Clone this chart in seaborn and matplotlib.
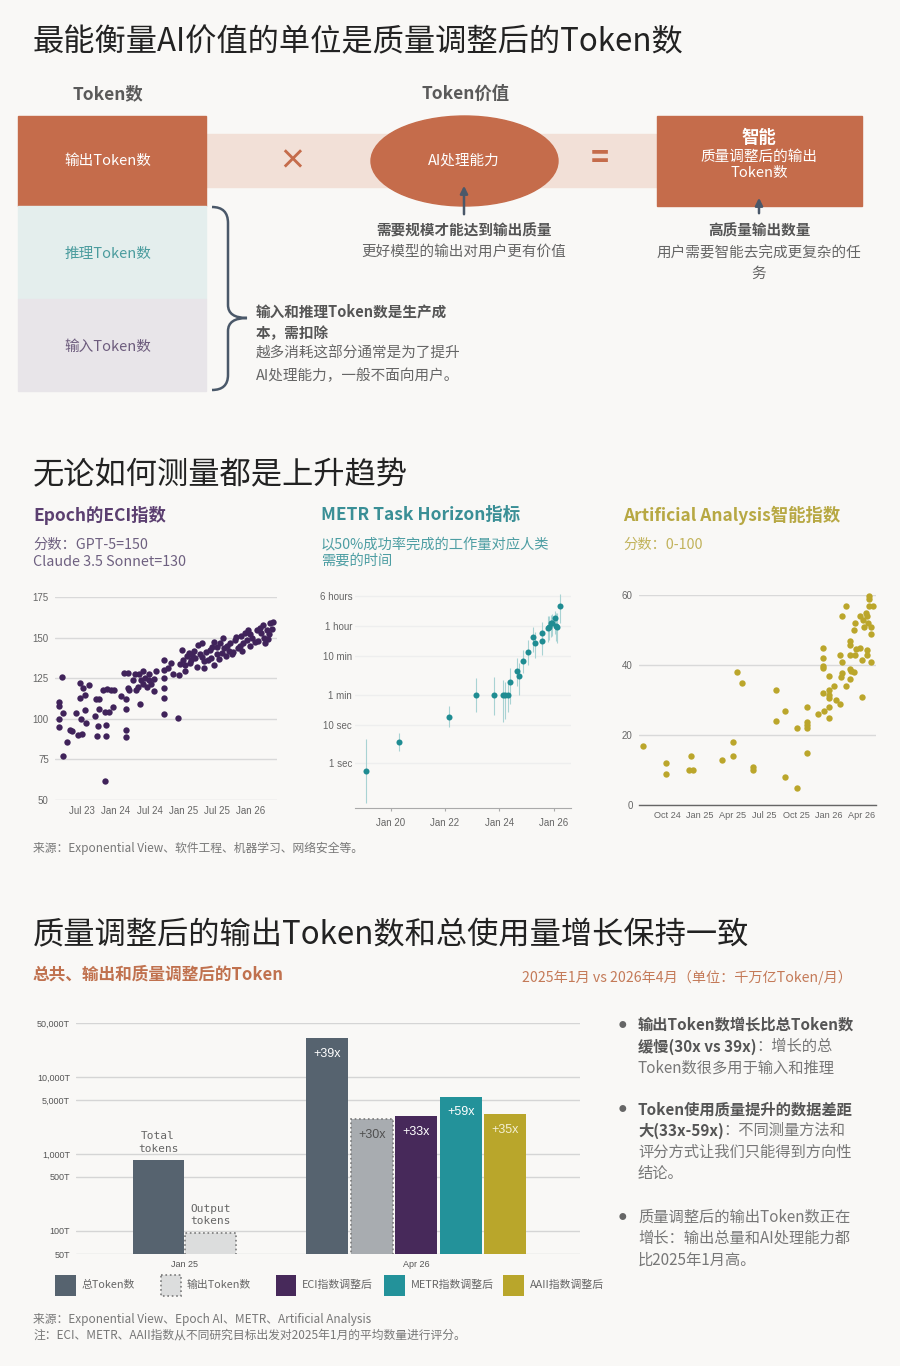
import matplotlib
matplotlib.use('Agg')
import matplotlib.pyplot as plt
import seaborn as sns
from matplotlib.patches import Rectangle, Ellipse, PathPatch
from matplotlib.path import Path
from matplotlib.ticker import NullLocator

# -------------------------
# Data
# -------------------------
# Epoch ECI (date as decimal year, score)
eci_date = [2023.17, 2023.17, 2023.17, 2023.17, 2023.21, 2023.22, 2023.23, 2023.29, 2023.32, 2023.35,
            2023.42, 2023.44, 2023.47, 2023.47, 2023.49, 2023.50, 2023.52, 2023.55, 2023.55, 2023.56,
            2023.61, 2023.70, 2023.71, 2023.72, 2023.74, 2023.75, 2023.76, 2023.82, 2023.84, 2023.86,
            2023.86, 2023.84, 2023.88, 2023.91, 2023.93, 2023.96, 2023.97, 2024.08, 2024.13, 2024.16,
            2024.16, 2024.16, 2024.16, 2024.18, 2024.19, 2024.20, 2024.25, 2024.29, 2024.30, 2024.33,
            2024.36, 2024.35, 2024.38, 2024.40, 2024.41, 2024.44, 2024.46, 2024.49, 2024.50, 2024.52,
            2024.56, 2024.57, 2024.59, 2024.71, 2024.72, 2024.72, 2024.72, 2024.72, 2024.72, 2024.77,
            2024.82, 2024.85, 2024.92, 2024.94, 2024.95, 2024.98, 2025.00, 2025.03, 2025.05, 2025.08,
            2025.10, 2025.13, 2025.15, 2025.17, 2025.20, 2025.22, 2025.25, 2025.27, 2025.30, 2025.31,
            2025.34, 2025.36, 2025.39, 2025.41, 2025.45, 2025.45, 2025.49, 2025.50, 2025.54, 2025.57,
            2025.59, 2025.60, 2025.63, 2025.67, 2025.69, 2025.72, 2025.76, 2025.78, 2025.80, 2025.83,
            2025.85, 2025.88, 2025.91, 2025.94, 2025.95, 2025.98, 2026.01, 2026.08, 2026.10, 2026.13,
            2026.15, 2026.17, 2026.21, 2026.23, 2026.27, 2026.28, 2026.31, 2026.32, 2025.02, 2025.12,
            2025.28, 2025.43, 2025.52, 2025.65, 2025.74, 2025.87, 2025.99, 2026.05, 2026.19, 2026.25]
eci_score = [110.5, 108, 99.6, 95, 126, 103.7, 77, 85.5, 93, 92.4,
             103.7, 90, 122, 113, 100, 90.6, 119, 114.5, 105.7, 97.5,
             121, 102, 112, 89.3, 95.7, 112.5, 106, 118, 104, 96,
             89.3, 61.5, 118.6, 104.3, 118, 107.4, 118, 114, 128, 112.5,
             106, 93.4, 88.5, 119, 128, 117.6, 123.8, 127.5, 117.6, 119.7,
             109.4, 127.5, 123.8, 129.5, 121.7, 125.4, 119.7, 123.8, 127.5, 121.3,
             117, 124.8, 129.5, 136, 130, 125.4, 119, 113, 103, 131.5,
             134.4, 127.5, 100.6, 127, 134, 142.6, 136.5, 129.5, 138.5, 140.6,
             134.4, 139, 142, 137.7, 132, 145.3, 140, 146.7, 135.7, 131.5,
             141, 136, 142.6, 137.7, 147.3, 133, 144.3, 140, 146.7, 140.6,
             150, 143.8, 138.5, 142, 146.7, 139.7, 148.4, 150.4, 143.3, 144.7,
             150.8, 146.7, 152.9, 148.4, 154.5, 144.7, 150, 154.5, 148, 156,
             152.9, 157.6, 146.7, 154.5, 152, 159, 155.5, 159.6, 133, 136,
             138, 144, 137, 145, 141, 142, 152, 147, 150, 149]

# METR task horizon (seconds, with 95% interval)
metr_date = [2019.08, 2020.32, 2022.15, 2023.14, 2023.82, 2024.12, 2024.21, 2024.33, 2024.39, 2024.64,
             2024.72, 2024.88, 2025.06, 2025.23, 2025.32, 2025.56, 2025.56, 2025.80, 2025.84, 2025.89,
             2025.95, 2026.04, 2026.08, 2026.13, 2026.22]
metr_sec = [0.62, 3.6, 16, 60, 60, 60, 60, 60, 125, 250,
            185, 440, 770, 1900, 1290, 2400, 1460, 3180, 3530, 4300,
            4500, 5800, 3670, 3400, 12000]
metr_lo = [0.09, 2.1, 8.7, 21, 17.5, 11.7, 14, 21, 35, 100,
           59, 214, 355, 795, 528, 1065, 645, 1440, 1600, 1900,
           2000, 2300, 1500, 1300, 4300]
metr_hi = [4.1, 6.1, 30, 158, 175, 144, 130, 117, 289, 525,
           390, 870, 1590, 3540, 2620, 4770, 2890, 6730, 6500, 7000,
           7500, 9000, 8000, 7800, 25000]
metr_ticks = [1, 10, 60, 600, 3600, 21600]
metr_tick_labels = ['1 sec', '10 sec', '1 min', '10 min', '1 hour', '6 hours']

# Artificial Analysis intelligence index
aa_date = [2024.56, 2024.74, 2024.74, 2024.93, 2024.92, 2024.95, 2025.17, 2025.26, 2025.26, 2025.29,
           2025.33, 2025.41, 2025.41, 2025.59, 2025.59, 2025.66, 2025.66, 2025.75, 2025.75, 2025.83,
           2025.83, 2025.83, 2025.83, 2025.83, 2025.91, 2025.95, 2025.95, 2025.95, 2025.95, 2025.95,
           2025.96, 2026.00, 2026.00, 2026.00, 2026.00, 2026.00, 2026.00, 2026.04, 2026.05, 2026.08,
           2026.08, 2026.10, 2026.10, 2026.09, 2026.10, 2026.13, 2026.13, 2026.16, 2026.16, 2026.16,
           2026.16, 2026.16, 2026.17, 2026.19, 2026.20, 2026.20, 2026.19, 2026.21, 2026.24, 2026.24,
           2026.25, 2026.25, 2026.26, 2026.27, 2026.28, 2026.29, 2026.29, 2026.30, 2026.31, 2026.31,
           2026.31, 2026.32, 2026.32, 2026.34, 2026.29, 2026.32]
aa_score = [17, 12, 9, 14.1, 10.1, 10.1, 13, 18, 13.9, 38,
            35, 10.9, 9.9, 33, 24, 27, 7.9, 22, 5, 28,
            23.6, 22.8, 22, 15, 26, 45, 42, 39.8, 39.1, 32,
            27, 37, 33, 31.5, 30.6, 25, 28, 33.9, 30, 29,
            43, 54, 41, 36.6, 37.7, 57, 34, 46.8, 45.8, 43,
            39, 36, 38.2, 50, 52, 43, 38, 44.6, 54, 44.9,
            41.5, 31, 53, 51, 55, 44.4, 43, 52, 57, 59.8,
            59, 49, 41, 57, 54, 51]

# Token bars (trillion tokens / month)
bar_period = ['Jan 25', 'Jan 25', 'Apr 26', 'Apr 26', 'Apr 26', 'Apr 26', 'Apr 26']
bar_series = ['总Token数', '输出Token数', '总Token数', '输出Token数', 'ECI指数调整后', 'METR指数调整后', 'AAII指数调整后']
bar_value = [820, 94, 32000, 2820, 3100, 5550, 3300]
bar_label = ['', '', '+39x', '+30x', '+33x', '+59x', '+35x']
periods = ['Jan 25', 'Apr 26']
bar_yticks = [50, 100, 500, 1000, 5000, 10000, 50000]
bar_ytick_labels = ['50T', '100T', '500T', '1,000T', '5,000T', '10,000T', '50,000T']

legend_names = ['总Token数', '输出Token数', 'ECI指数调整后', 'METR指数调整后', 'AAII指数调整后']

# -------------------------
# Style
# -------------------------
W, H = 900, 1366
BG = '#f9f8f6'
ORANGE = '#c56c4b'
SLATE = '#4a5869'
PURPLE = '#40235a'
TEAL = '#1f8c92'
OLIVE = '#bba62b'

sns.set_theme(style='white')
plt.rcParams['font.family'] = ['Noto Sans CJK SC', 'DejaVu Sans']
plt.rcParams['axes.unicode_minus'] = False

fig = plt.figure(figsize=(W / 100, H / 100), dpi=100, facecolor=BG)

bg = fig.add_axes([0, 0, 1, 1])
bg.set_xlim(0, W)
bg.set_ylim(H, 0)
bg.axis('off')


def box(x0, y0, x1, y1):
    ax = fig.add_axes([x0 / W, 1 - y1 / H, (x1 - x0) / W, (y1 - y0) / H])
    ax.set_facecolor('none')
    for s in ax.spines.values():
        s.set_visible(False)
    return ax


def txt(x, y, s, size=10.5, color='#666666', bold=False, ha='center', **kw):
    return bg.text(x, y, s, fontsize=size, color=color, ha=ha, va='center',
                   fontweight='bold' if bold else 'normal', **kw)


def seg_text(x, y, parts, size=11):
    r = fig.canvas.get_renderer()
    for s, bold, col in parts:
        t = txt(x, y, s, size=size, color=col, bold=bold, ha='left')
        x += t.get_window_extent(renderer=r).width


# -------------------------
# Section 1: diagram
# -------------------------
txt(33, 42, '最能衡量AI价值的单位是质量调整后的Token数', size=22.5, color='#222222', ha='left')
txt(108, 94, 'Token数', size=12.5, color='#5a5a5a', bold=True)
txt(466, 94, 'Token价值', size=12.5, color='#5a5a5a', bold=True)

bg.add_patch(Rectangle((206, 134), 452, 53, color='#f2e0d7', zorder=1))
bg.add_patch(Rectangle((18, 116), 188, 90, color=ORANGE, zorder=2))
bg.add_patch(Rectangle((18, 206), 188, 93, color='#e4eeed', zorder=2))
bg.add_patch(Rectangle((18, 299), 188, 92, color='#e8e5e9', zorder=2))
bg.add_patch(Ellipse((464.5, 161), 187, 90, color=ORANGE, zorder=2))
bg.add_patch(Rectangle((657, 116), 205, 90, color=ORANGE, zorder=2))

txt(108, 161, '输出Token数', color='white', zorder=3)
txt(108, 254, '推理Token数', color='#4b9c9e', zorder=3)
txt(108, 347, '输入Token数', color='#6d5c7d', zorder=3)
txt(292, 161, '×', size=20, color=ORANGE, bold=True, zorder=3)
txt(600, 159, '=', size=22, color=ORANGE, bold=True, zorder=3)
txt(464, 161, 'AI处理能力', color='white', zorder=3)
txt(759, 138, '智能', size=12.5, color='white', bold=True, zorder=3)
txt(759, 157, '质量调整后的输出', color='white', zorder=3)
txt(759, 173, 'Token数', color='white', zorder=3)

for ax_x, y0, y1 in [(464, 217, 183), (759, 216, 195)]:
    bg.annotate('', xy=(ax_x, y1), xytext=(ax_x, y0),
                arrowprops=dict(arrowstyle='-|>', color=SLATE, lw=1.8, mutation_scale=11), zorder=4)

txt(464, 231, '需要规模才能达到输出质量', color='#555555', bold=True)
txt(464, 252, '更好模型的输出对用户更有价值')
txt(759, 231, '高质量输出数量', color='#555555', bold=True)
txt(759, 253, '用户需要智能去完成更复杂的任')
txt(759, 274, '务')

brace = Path([(212, 207), (228, 207), (228, 223), (228, 305), (228, 318), (247, 318),
              (228, 318), (228, 331), (228, 375), (228, 390), (212, 390)],
             [Path.MOVETO, Path.CURVE3, Path.CURVE3, Path.LINETO, Path.CURVE3, Path.CURVE3,
              Path.CURVE3, Path.CURVE3, Path.LINETO, Path.CURVE3, Path.CURVE3])
bg.add_patch(PathPatch(brace, fill=False, edgecolor=SLATE, lw=1.8, zorder=3))

txt(256, 312, '输入和推理Token数是生产成', color='#555555', bold=True, ha='left')
txt(256, 333, '本，需扣除', color='#555555', bold=True, ha='left')
txt(256, 354, '越多消耗这部分通常是为了提升', ha='left')
txt(256, 376, 'AI处理能力，一般不面向用户。', ha='left')

# -------------------------
# Section 2: three indices
# -------------------------
txt(33, 475, '无论如何测量都是上升趋势', size=22.5, color='#222222', ha='left')
txt(33, 515, 'Epoch的ECI指数', size=12.5, color='#5b3f70', bold=True, ha='left')
txt(321, 515, 'METR Task Horizon指标', size=12.5, color='#3a8f96', bold=True, ha='left')
txt(623, 515, 'Artificial Analysis智能指数', size=12.5, color='#b7a843', bold=True, ha='left')
txt(33, 545, '分数：GPT-5=150', size=10.3, color='#6e6080', ha='left')
txt(33, 562, 'Claude 3.5 Sonnet=130', size=10.3, color='#6e6080', ha='left')
txt(321, 545, '以50%成功率完成的工作量对应人类', size=10.3, color='#4e9ea3', ha='left')
txt(321, 561, '需要的时间', size=10.3, color='#4e9ea3', ha='left')
txt(623, 545, '分数：0-100', size=10.3, color='#c2b35c', ha='left')
txt(33, 848, '来源：Exponential View、软件工程、机器学习、网络安全等。', size=8.5, color='#777777', ha='left')

tick_kw = dict(length=0, labelsize=7, labelcolor='#666666', labelfontfamily='Liberation Sans')

# ECI
ax1 = box(55, 597, 277, 800)
ax1.set_axisbelow(True)
ax1.grid(axis='y', color='#d9d9d9', lw=1)
sns.scatterplot(x=eci_date, y=eci_score, ax=ax1, color=PURPLE, s=21, linewidth=0, clip_on=False)
ax1.set_xlim(2023.106, 2026.382)
ax1.set_ylim(50, 175)
ax1.set_yticks([50, 75, 100, 125, 150, 175])
ax1.set_xticks([2023.5, 2024, 2024.5, 2025, 2025.5, 2026],
               ['Jul 23', 'Jan 24', 'Jul 24', 'Jan 25', 'Jul 25', 'Jan 26'])
ax1.tick_params(axis='both', pad=4.5, **tick_kw)

# METR
ax2 = box(355, 594, 571, 808)
ax2.set_yscale('log')
ax2.set_axisbelow(True)
ax2.grid(axis='y', color='#eeeeee', lw=1)
ax2.vlines(metr_date, metr_lo, metr_hi, color='#a9d3d3', lw=0.8, zorder=2)
sns.scatterplot(x=metr_date, y=metr_sec, ax=ax2, color=TEAL, s=19, linewidth=0, zorder=3, clip_on=False)
ax2.set_ylim(0.067, 25000)
ax2.set_xlim(2018.69, 2026.64)
ax2.yaxis.set_minor_locator(NullLocator())
ax2.set_yticks(metr_ticks, metr_tick_labels)
ax2.set_xticks([2020, 2022, 2024, 2026], ['Jan 20', 'Jan 22', 'Jan 24', 'Jan 26'])
ax2.spines['bottom'].set_visible(True)
ax2.spines['bottom'].set_color('#aaaaaa')
ax2.spines['bottom'].set_linewidth(0.8)
ax2.tick_params(axis='y', pad=2, **tick_kw)
ax2.tick_params(axis='x', pad=4.5, labelsize=7, labelcolor='#666666', labelfontfamily='Liberation Sans',
                length=2.5, color='#aaaaaa', width=0.8, bottom=True)

# Artificial Analysis
ax3 = box(639, 595, 876, 805)
ax3.set_axisbelow(True)
ax3.grid(axis='y', color='#d9d9d9', lw=1)
sns.scatterplot(x=aa_date, y=aa_score, ax=ax3, color=OLIVE, s=21, linewidth=0, clip_on=False)
ax3.set_xlim(2024.531, 2026.361)
ax3.set_ylim(0, 60)
ax3.set_yticks([0, 20, 40, 60])
ax3.set_xticks([2024.75, 2025, 2025.25, 2025.5, 2025.75, 2026, 2026.25],
               ['Oct 24', 'Jan 25', 'Apr 25', 'Jul 25', 'Oct 25', 'Jan 26', 'Apr 26'])
ax3.spines['bottom'].set_visible(True)
ax3.spines['bottom'].set_color('#666666')
ax3.spines['bottom'].set_linewidth(1)
ax3.tick_params(axis='both', pad=4.5, **tick_kw)
ax3.tick_params(axis='x', labelsize=6.6)

# -------------------------
# Section 3: token bars
# -------------------------
txt(33, 935, '质量调整后的输出Token数和总使用量增长保持一致', size=22.5, color='#222222', ha='left')
txt(33, 975, '总共、输出和质量调整后的Token', size=12, color='#c0714e', bold=True, ha='left')
txt(852, 977, '2025年1月 vs 2026年4月（单位：千万亿Token/月）', size=10.2, color='#c47a58', ha='right')

series_style = {
    '总Token数': dict(color='#56636f'),
    '输出Token数': dict(color='#dcdddd', edgecolor='#7a7a7a', linestyle=':', linewidth=1.2),
    'ECI指数调整后': dict(color='#47295a'),
    'METR指数调整后': dict(color='#23929a'),
    'AAII指数调整后': dict(color='#b9a62b'),
}
label_color = {'+39x': 'white', '+30x': '#505050', '+33x': 'white', '+59x': 'white', '+35x': '#f4f0d2'}

ax4 = box(75.5, 1023, 579.5, 1254)
ax4.set_yscale('log')
ax4.set_axisbelow(True)
ax4.grid(axis='y', color='#d5d5d5', lw=1)

group_step = {'Jan 25': 0.227, 'Apr 26': 0.192}
group_width = {'Jan 25': 0.22, 'Apr 26': 0.182}
for gi, per in enumerate(periods):
    idx = [i for i, p in enumerate(bar_period) if p == per]
    n = len(idx)
    for k, i in enumerate(idx):
        xpos = gi + (k - (n - 1) / 2) * group_step[per]
        style = dict(series_style[bar_series[i]])
        if per == 'Apr 26' and bar_series[i] == '输出Token数':
            style['color'] = '#a8acb0'
        face = style.pop('color')
        ax4.bar(xpos, bar_value[i], width=group_width[per], facecolor=face,
                edgecolor=style.get('edgecolor', 'none'), linestyle=style.get('linestyle', '-'),
                linewidth=style.get('linewidth', 0), zorder=2)
        if bar_label[i]:
            ax4.annotate(bar_label[i], (xpos, bar_value[i]), xytext=(0, -11.5), textcoords='offset points',
                         ha='center', va='center', fontsize=9, color=label_color[bar_label[i]],
                         family='Liberation Sans', zorder=3)
        elif bar_series[i] == '总Token数':
            ax4.annotate('Total\ntokens', (xpos, bar_value[i]), xytext=(0, 5), textcoords='offset points',
                         ha='center', va='bottom', fontsize=8, color='#666666',
                         family='DejaVu Sans Mono', linespacing=1.3)
        else:
            ax4.annotate('Output\ntokens', (xpos, bar_value[i]), xytext=(0, 5), textcoords='offset points',
                         ha='center', va='bottom', fontsize=8, color='#666666',
                         family='DejaVu Sans Mono', linespacing=1.3)

ax4.set_xlim(-0.470, 1.704)
ax4.set_ylim(50, 50000)
ax4.yaxis.set_minor_locator(NullLocator())
ax4.set_yticks(bar_yticks, bar_ytick_labels)
ax4.set_xticks([0, 1], periods)
ax4.tick_params(axis='y', pad=4, length=0, labelsize=6.5, labelcolor='#555555', labelfontfamily='Liberation Sans')
ax4.tick_params(axis='x', pad=4, length=0, labelsize=6.5, labelcolor='#555555', labelfontfamily='Liberation Sans')

# legend
legend_x = [55, 160.5, 275.5, 384, 503]
for lx, name in zip(legend_x, legend_names):
    st = series_style[name]
    bg.add_patch(Rectangle((lx, 1275), 20.5, 20.5, facecolor=st['color'],
                           edgecolor=st.get('edgecolor', 'none'), linestyle=st.get('linestyle', '-'),
                           linewidth=st.get('linewidth', 0)))
    txt(lx + 26.5, 1285, name, size=7.8, color='#666666', ha='left')

# bullets
DARK, LIGHT = '#555555', '#777777'
bullets = [
    (1025, [[('输出Token数增长比总Token数', True, DARK)],
            [('缓慢(30x vs 39x)', True, DARK), ('：增长的总', False, LIGHT)],
            [('Token数很多用于输入和推理', False, LIGHT)]]),
    (1109, [[('Token使用质量提升的数据差距', True, DARK)],
            [('大(33x-59x)', True, DARK), ('：不同测量方法和', False, LIGHT)],
            [('评分方式让我们只能得到方向性', False, LIGHT)],
            [('结论。', False, LIGHT)]]),
    (1217, [[('质量调整后的输出Token数正在', False, LIGHT)],
            [('增长：输出总量和AI处理能力都', False, LIGHT)],
            [('比2025年1月高。', False, LIGHT)]]),
]
for y0, lines in bullets:
    txt(622, y0, '●', size=5.5, color='#666666')
    for li, parts in enumerate(lines):
        seg_text(638, y0 + li * 21.4, parts, size=11)

txt(33, 1319, '来源：Exponential View、Epoch AI、METR、Artificial Analysis', size=8.5, color='#777777', ha='left')
txt(33, 1335, '注：ECI、METR、AAII指数从不同研究目标出发对2025年1月的平均数量进行评分。', size=8.5,
    color='#777777', ha='left')

fig.savefig('out.png', dpi=100, facecolor=BG)
